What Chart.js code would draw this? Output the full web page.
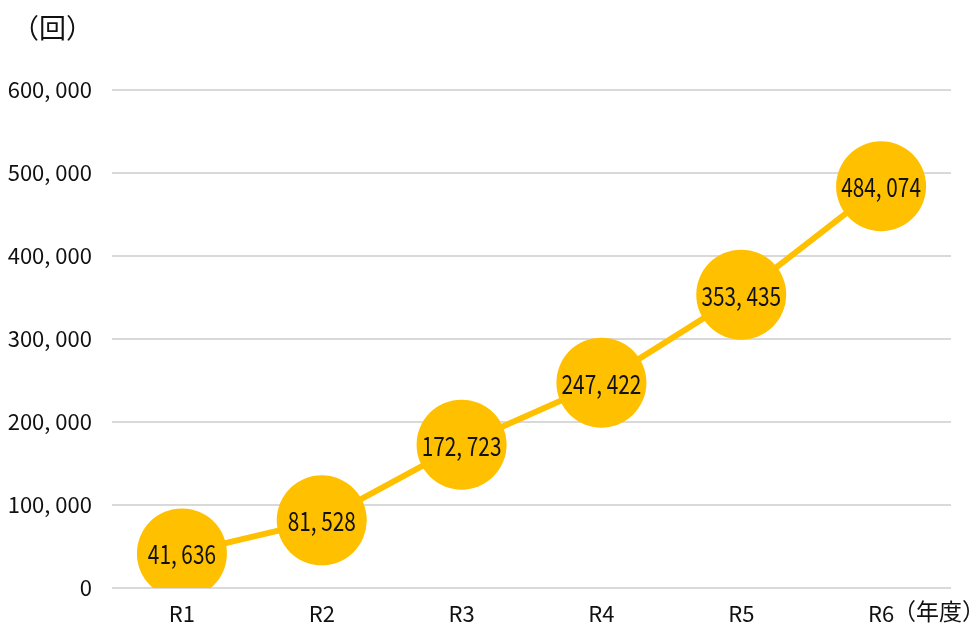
<!DOCTYPE html>
<html>
<head>
<meta charset="utf-8">
<script src="https://cdn.jsdelivr.net/npm/chart.js@4/dist/chart.umd.min.js"></script>
<style>
  body { margin: 0; background: #fff; }
  #wrap { width: 975px; height: 628px; }
</style>
</head>
<body>
<div id="wrap"><canvas id="line-chart" width="975" height="628"></canvas></div>
<script>
const labels = ["R1", "R2", "R3", "R4", "R5", "R6"];
const counts = [41636, 81528, 172723, 247422, 353435, 484074];
const yTicks = [0, 100000, 200000, 300000, 400000, 500000, 600000];

const FONT = "'Noto Sans CJK JP', 'Noto Sans', sans-serif";
const fmt = v => v.toLocaleString('en-US').replace(/,/g, ', ');

// labels inside the circles, squeezed a little to look condensed
const pointLabels = {
  id: 'pointLabels',
  afterDatasetsDraw(chart) {
    const ctx = chart.ctx;
    const meta = chart.getDatasetMeta(0);
    ctx.save();
    ctx.font = "26px " + FONT;
    ctx.fillStyle = '#111';
    ctx.textAlign = 'center';
    ctx.textBaseline = 'middle';
    meta.data.forEach((pt, i) => {
      ctx.save();
      ctx.translate(pt.x, pt.y);
      ctx.scale(0.8, 1);
      ctx.fillText(fmt(counts[i]), 0, 1);
      ctx.restore();
    });
    ctx.restore();
  }
};

const unitText = {
  id: 'unitText',
  afterDraw(chart) {
    const ctx = chart.ctx;
    ctx.save();
    ctx.font = "27px " + FONT;
    ctx.fillStyle = '#111';
    ctx.textBaseline = 'middle';
    ctx.textAlign = 'left';
    ctx.fillText('（回）', 12, 28);
    ctx.font = "23px " + FONT;
    ctx.fillText('（年度）', 893, 611);
    ctx.restore();
  }
};

// eslint-disable-next-line no-new
new Chart(document.getElementById("line-chart"), {
  type: 'line',
  data: {
    labels: labels,
    datasets: [{
      data: counts,
      borderColor: '#FFC000',
      backgroundColor: '#FFC000',
      borderWidth: 6,
      pointRadius: 45,
      pointHoverRadius: 45,
      pointBorderWidth: 0,
      tension: 0
    }]
  },
  options: {
    responsive: false,
    animation: false,
    layout: { autoPadding: false, padding: { top: 90, right: 24, left: 0, bottom: 0 } },
    plugins: { legend: { display: false }, tooltip: { enabled: false } },
    scales: {
      x: {
        offset: true,
        grid: { display: false },
        border: { display: false },
        ticks: { color: '#111', font: { size: 22, family: FONT }, padding: 4 },
        afterFit: s => { s.height = 40; }
      },
      y: {
        min: 0,
        max: 600000,
        afterBuildTicks: s => { s.ticks = yTicks.map(v => ({ value: v })); },
        grid: { color: '#d9d9d9', lineWidth: 2, drawTicks: false },
        border: { display: false },
        ticks: { color: '#111', font: { size: 22, family: FONT }, padding: 20, callback: v => fmt(v) },
        afterFit: s => { s.width = 112; }
      }
    }
  },
  plugins: [pointLabels, unitText]
});
</script>
</body>
</html>
